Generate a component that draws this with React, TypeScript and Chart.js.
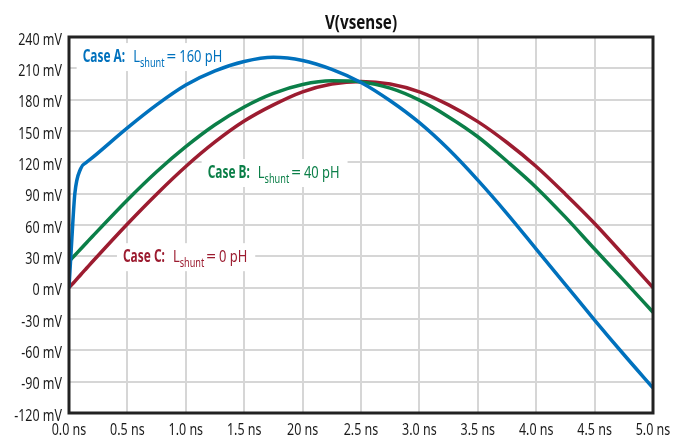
import React, { useEffect, useRef } from "react";
import { Chart, registerables } from "chart.js";

Chart.register(...registerables);

const timeNs = [0, 0.025, 0.05, 0.1, 0.15, 0.2, 0.5, 0.75, 1.0, 1.25, 1.5, 1.75, 2.0, 2.25, 2.5, 2.75, 3.0, 3.25, 3.5, 3.75, 4.0, 4.25, 4.5, 4.75, 5.0];
const caseA = [0, 48, 90, 114, 120, 124.5, 153, 175, 194, 207.5, 216.5, 220.5, 217.5, 209, 196.5, 179, 158, 132.5, 103, 71, 37, 3, -31, -64, -96];
const caseB = [25, 28, 31, 37, 43, 49, 84, 111, 135, 156, 173, 186, 194.5, 198, 197, 191, 179.5, 163.5, 144.5, 121, 96, 67.5, 37, 7, -23.5];
const caseC = [0, 3, 6, 12.4, 18.6, 24.8, 61, 89.5, 116, 139.5, 159.5, 175, 187.5, 195, 197.5, 195, 187.5, 175, 159, 139, 116, 89.5, 61.5, 31, 0];

const xTickValues = [0, 0.5, 1.0, 1.5, 2.0, 2.5, 3.0, 3.5, 4.0, 4.5, 5.0];
const xTickLabels = ["0.0 ns", "0.5 ns", "1.0 ns", "1.5 ns", "20 ns", "2.5 ns", "3.0 ns", "3.5 ns", "4.0 ns", "4.5 ns", "5.0 ns"];
const yTickValues = [240, 210, 180, 150, 120, 90, 60, 30, 0, -30, -60, -90, -120];
const yUnit = " mV";
const titleText = "V(vsense)";

const labelBold = ["Case A:", "Case B:", "Case C:"];
const labelValue = ["160 pH", "40 pH", "0 pH"];
const labelT = [0.117, 1.187, 0.462];
const labelV = [216, 105, 24.4];

const colors = ["#0071bd", "#0b7f48", "#9c1c30"];
const FONT = "'Noto Sans', 'Open Sans', sans-serif";
const SX = 0.76;

function condensedText(ctx: any, text: string, x: number, y: number, font: string, align: string, sx = SX) {
  ctx.save();
  ctx.font = font;
  ctx.textAlign = align;
  ctx.textBaseline = "alphabetic";
  ctx.translate(x, y);
  ctx.scale(sx, 1);
  ctx.fillText(text, 0, 0);
  ctx.restore();
}
function condensedWidth(ctx: any, text: string, font: string, sx = SX) {
  ctx.save();
  ctx.font = font;
  const w = ctx.measureText(text).width * sx;
  ctx.restore();
  return w;
}

const decorPlugin = {
  id: "decor",
  beforeDatasetsDraw(chart: any) {
    const ctx = chart.ctx;
    const xs = chart.scales.x;
    const ys = chart.scales.y;
    const fB = `bold 17px ${FONT}`;
    const fR = `17px ${FONT}`;
    const fS = `12px ${FONT}`;
    for (let i = 0; i < labelBold.length; i++) {
      const x = xs.getPixelForValue(labelT[i]);
      const y = ys.getPixelForValue(labelV[i]);
      const w1 = condensedWidth(ctx, labelBold[i], fB, 0.7);
      const wL = condensedWidth(ctx, "L", fR);
      const wS = condensedWidth(ctx, "shunt", fS);
      const wE = condensedWidth(ctx, "=", fR, 1.0);
      const wV = condensedWidth(ctx, labelValue[i], fR);
      const gap = 8;
      const total = w1 + gap + wL + wS + 2 + wE + 3 + wV;
      ctx.save();
      ctx.fillStyle = "#ffffff";
      ctx.fillRect(x - 6, y - 19, total + 14, 28);
      ctx.fillStyle = colors[i];
      let cx = x;
      condensedText(ctx, labelBold[i], cx, y, fB, "left", 0.7);
      cx += w1 + gap;
      condensedText(ctx, "L", cx, y, fR, "left");
      cx += wL;
      condensedText(ctx, "shunt", cx, y + 4.5, fS, "left");
      cx += wS + 2;
      condensedText(ctx, "=", cx, y, fR, "left", 1.0);
      cx += wE + 3;
      condensedText(ctx, labelValue[i], cx, y, fR, "left");
      ctx.restore();
    }
  },
  afterDatasetsDraw(chart: any) {
    const ctx = chart.ctx;
    const a = chart.chartArea;
    const xs = chart.scales.x;
    const ys = chart.scales.y;
    ctx.save();
    ctx.strokeStyle = "#222222";
    ctx.lineWidth = 3;
    ctx.strokeRect(a.left, a.top, a.right - a.left, a.bottom - a.top);
    ctx.fillStyle = "#1a1a1a";
    for (let i = 0; i < yTickValues.length; i++) {
      const y = ys.getPixelForValue(yTickValues[i]);
      condensedText(ctx, `${yTickValues[i]}${yUnit}`, a.left - 7, y + 7.5, `16px ${FONT}`, "right", 0.78);
    }
    for (let i = 0; i < xTickValues.length; i++) {
      const x = xs.getPixelForValue(xTickValues[i]);
      condensedText(ctx, xTickLabels[i], x, a.bottom + 22, `16px ${FONT}`, "center", 0.78);
    }
    ctx.fillStyle = "#111111";
    condensedText(ctx, titleText, (a.left + a.right) / 2, 29, `bold 19px ${FONT}`, "center", 0.8);
    ctx.restore();
  },
};

export default function App() {
  const ref = useRef<HTMLCanvasElement | null>(null);
  useEffect(() => {
    document.body.style.margin = "0";
    const canvas = ref.current;
    if (!canvas) return;
    const mk = (arr: number[]) => timeNs.map((t, i) => ({ x: t, y: arr[i] }));
    const series = [caseA, caseB, caseC];
    const chart = new Chart(canvas, {
      type: "line",
      data: {
        datasets: series.map((s, i) => ({
          data: mk(s),
          borderColor: colors[i],
          borderWidth: 3.5,
          pointRadius: 0,
          cubicInterpolationMode: "monotone" as const,
          fill: false,
        })),
      },
      options: {
        animation: false,
        responsive: false,
        devicePixelRatio: 1,
        layout: { padding: { top: 37, right: 20, left: 0, bottom: 0 } },
        plugins: { legend: { display: false }, title: { display: false }, tooltip: { enabled: false } },
        scales: {
          x: {
            type: "linear",
            min: 0,
            max: 5,
            border: { display: false },
            grid: { color: "#d6d6d6", lineWidth: 2, drawTicks: false },
            ticks: { stepSize: 0.5, display: false, autoSkip: false },
            afterFit: (s: any) => { s.height = 23; },
          },
          y: {
            min: -120,
            max: 240,
            border: { display: false },
            grid: { color: "#d6d6d6", lineWidth: 2, drawTicks: false },
            ticks: { stepSize: 30, display: false, autoSkip: false },
            afterFit: (s: any) => { s.width = 69; },
          },
        },
      },
      plugins: [decorPlugin],
    });
    return () => chart.destroy();
  }, []);
  return (
    <div style={{ width: 673, height: 436 }}>
      <canvas ref={ref} width={673} height={436} />
    </div>
  );
}
